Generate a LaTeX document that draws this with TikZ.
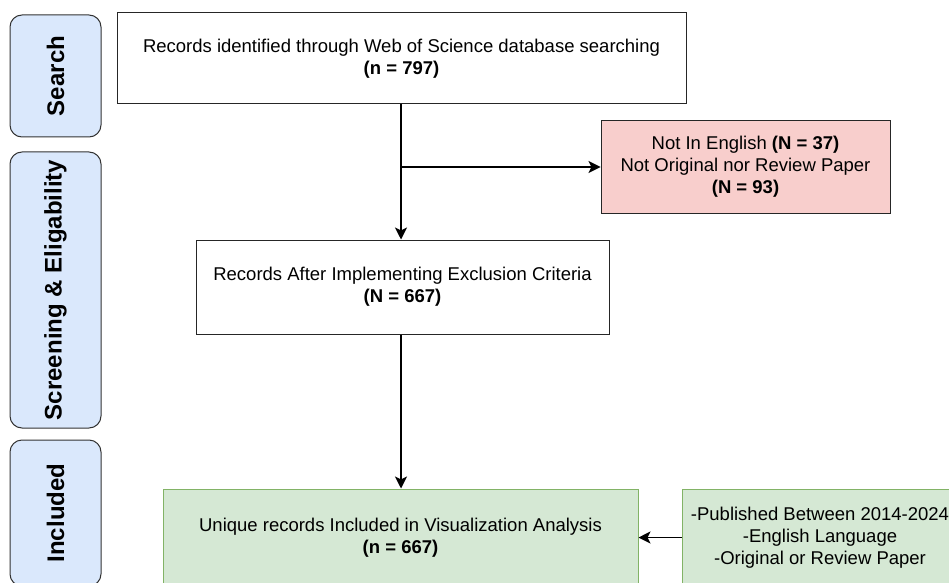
\documentclass[tikz,border=0pt]{standalone}
\usepackage{fontspec}
\setmainfont{Liberation Sans}
\usetikzlibrary{arrows.meta}

\definecolor{stageblue}{HTML}{DAE8FC}
\definecolor{dropred}{HTML}{F8CECC}
\definecolor{keepgreen}{HTML}{D5E8D4}
\definecolor{keepline}{HTML}{82B366}

\begin{document}
\begin{tikzpicture}[x = 1pt, y = 1pt,
    stage/.style = {draw=black!80, fill=stageblue, rounded corners=12pt, line width=1pt,
      rotate=90, inner sep=0pt, minimum height=91pt, font=\fontsize{24}{28}\selectfont\bfseries},
    record/.style = {draw=black!85, line width=1pt, align=center, inner sep=2pt,
      font=\fontsize{18.5}{22}\selectfont},
    dropped/.style = {record, fill=dropred},
    kept/.style = {record, draw=keepline, fill=keepgreen},
    flow/.style = {line width=1.2pt, -{Stealth[length=12pt, width=12pt, inset=3pt]}}]
        \useasboundingbox (0,0) rectangle (949,582);
        \clip (0,0) rectangle (949,582);
        % stages on the left
        \node[stage, minimum width=122pt] (search) at (55.5,506) {Search};
        \node[stage, minimum width=276pt] (screen) at (55.5,292) {Screening \& Eligability};
        \node[stage, minimum width=146pt] (incl) at (55.5,69) {Included};
        % records
        \node[record, minimum width=569pt, minimum height=91pt] (found) at (401.5,523.5)
          {Records identified through Web of Science database searching\\\textbf{(n = 797)}};
        \node[dropped, minimum width=289pt, minimum height=92pt] (excluded) at (745.5,415)
          {Not In English \textbf{(N = 37)}\\Not Original nor Review Paper\\\textbf{(N = 93)}};
        \node[record, minimum width=413pt, minimum height=94pt] (after) at (402.5,295)
          {Records After Implementing Exclusion Criteria\\\textbf{(N = 667)}};
        \node[kept, minimum width=475pt, minimum height=97pt] (unique) at (400.5,44.5)
          {Unique records Included in Visualization Analysis\\\textbf{(n = 667)}};
        \node[kept, minimum width=276pt, minimum height=97pt, inner sep=0pt] (criteria) at (820,44.5)
          {-Published Between 2014-2024\\-English Language\\-Original or Review Paper};
        \coordinate (split) at (401,415);
        % connectors
        \draw[flow] (found.south -| split) -- (after.north -| split);
        \draw[flow] (split) -- (excluded.west);
        \draw[flow] (after.south -| split) -- (unique.north -| split);
        \draw[flow] (criteria.west) -- (unique.east);
      \end{tikzpicture}
\end{document}
